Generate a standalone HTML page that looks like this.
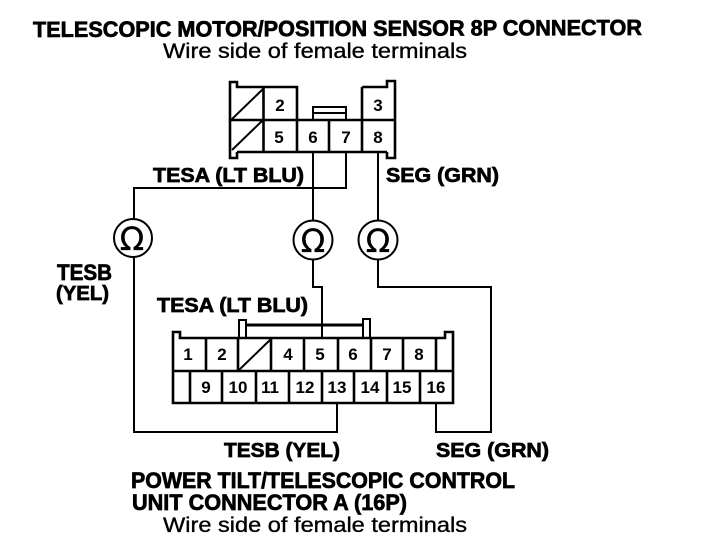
<!DOCTYPE html>
<html><head><meta charset="utf-8"><style>
html,body{margin:0;padding:0;background:#fff}
svg{display:block}
text{font-family:"Liberation Sans",sans-serif;fill:#000}
.b{font-weight:bold;font-size:20px;stroke:#000;stroke-width:.7px}
.t{font-weight:bold;font-size:22px;stroke:#000;stroke-width:.7px}
.r{font-size:21px;stroke:#000;stroke-width:.35px}
.n{font-size:17px;font-weight:bold;text-anchor:middle}
.o{font-family:"DejaVu Sans",sans-serif;font-size:32px;text-anchor:middle;stroke:#000;stroke-width:.3px}
</style></head><body>
<svg width="704" height="548" viewBox="0 0 704 548" xmlns="http://www.w3.org/2000/svg">
<g fill="none" stroke="#000" stroke-width="2.6">
<!-- top connector -->
<path d="M237 152V158H230V82H237V87H297V120M230 120H395M263.500 87V152M237 152H387M329 120V152M297 120V152M362 87V152M362 87H387V81H395V158H387V152"/>
<path d="M232 119L263 89M232 150L263 120" stroke-width="2"/>
<path d="M313 120V107H346V120M313 113H346" stroke-width="2"/>
<!-- wires top -->
<path d="M134 220V188H346V152M313 152V220M378 152V220" stroke-width="2"/>
<circle cx="133" cy="238" r="19" stroke-width="2"/>
<circle cx="313" cy="240" r="19.500" stroke-width="2"/>
<circle cx="378" cy="240" r="19.500" stroke-width="2"/>
<!-- wires bottom -->
<path d="M134 257V432H337V403M313 259V287H322V338M378 259V287H491V432H436V403" stroke-width="2"/>
<!-- bottom connector -->
<path d="M173 403V332H180V338H445V332H453V403ZM173 371H453M206 338V371M238 338V371M271 338V371M304 338V371M338 338V371M371 338V371M403 338V371M436 338V371M190 371V403M222 371V403M256 371V403M289 371V403M322 371V403M354 371V403M387 371V403M420 371V403"/>
<path d="M239 370L271 339" stroke-width="2"/>
<path d="M239 338V320H246V338M370 338V319H363V338" stroke-width="2"/>
<path d="M246 325H363" stroke-width="3"/>
</g>
<text class="o" x="132" y="250">Ω</text>
<text class="o" x="313" y="252">Ω</text>
<text class="o" x="378" y="252">Ω</text>
<text class="n" x="280" y="111">2</text><text class="n" x="378" y="111">3</text>
<text class="n" x="279" y="143">5</text><text class="n" x="313" y="143">6</text><text class="n" x="346" y="143">7</text><text class="n" x="378" y="143">8</text>
<text class="n" x="188" y="360">1</text><text class="n" x="222" y="360">2</text><text class="n" x="288" y="360">4</text><text class="n" x="320" y="360">5</text><text class="n" x="353" y="360">6</text><text class="n" x="387" y="360">7</text><text class="n" x="419" y="360">8</text>
<text class="n" x="206" y="393">9</text><text class="n" x="238" y="393">10</text><text class="n" x="270" y="393">11</text><text class="n" x="305" y="393">12</text><text class="n" x="337" y="393">13</text><text class="n" x="370" y="393">14</text><text class="n" x="402" y="393">15</text><text class="n" x="436" y="393">16</text>
<text class="t" transform="translate(33 37) rotate(-0.19)" textLength="609" lengthAdjust="spacingAndGlyphs">TELESCOPIC MOTOR/POSITION SENSOR 8P CONNECTOR</text>
<text class="r" x="163" y="58" textLength="304" lengthAdjust="spacingAndGlyphs">Wire side of female terminals</text>
<text class="b" x="153" y="182" textLength="151" lengthAdjust="spacingAndGlyphs">TESA (LT BLU)</text>
<text class="b" x="386" y="182" textLength="113" lengthAdjust="spacingAndGlyphs">SEG (GRN)</text>
<text class="t" x="57" y="280" textLength="55" lengthAdjust="spacingAndGlyphs">TESB</text>
<text class="b" x="56" y="300" textLength="53" lengthAdjust="spacingAndGlyphs">(YEL)</text>
<text class="b" x="157" y="312" textLength="151" lengthAdjust="spacingAndGlyphs">TESA (LT BLU)</text>
<text class="b" x="224" y="457" textLength="116" lengthAdjust="spacingAndGlyphs">TESB (YEL)</text>
<text class="b" x="436" y="457" textLength="113" lengthAdjust="spacingAndGlyphs">SEG (GRN)</text>
<text class="t" x="131" y="488" textLength="384" lengthAdjust="spacingAndGlyphs">POWER TILT/TELESCOPIC CONTROL</text>
<text class="t" x="132" y="510" textLength="275" lengthAdjust="spacingAndGlyphs">UNIT CONNECTOR A (16P)</text>
<text class="r" x="163" y="532" textLength="304" lengthAdjust="spacingAndGlyphs">Wire side of female terminals</text>
</svg>
</body></html>
